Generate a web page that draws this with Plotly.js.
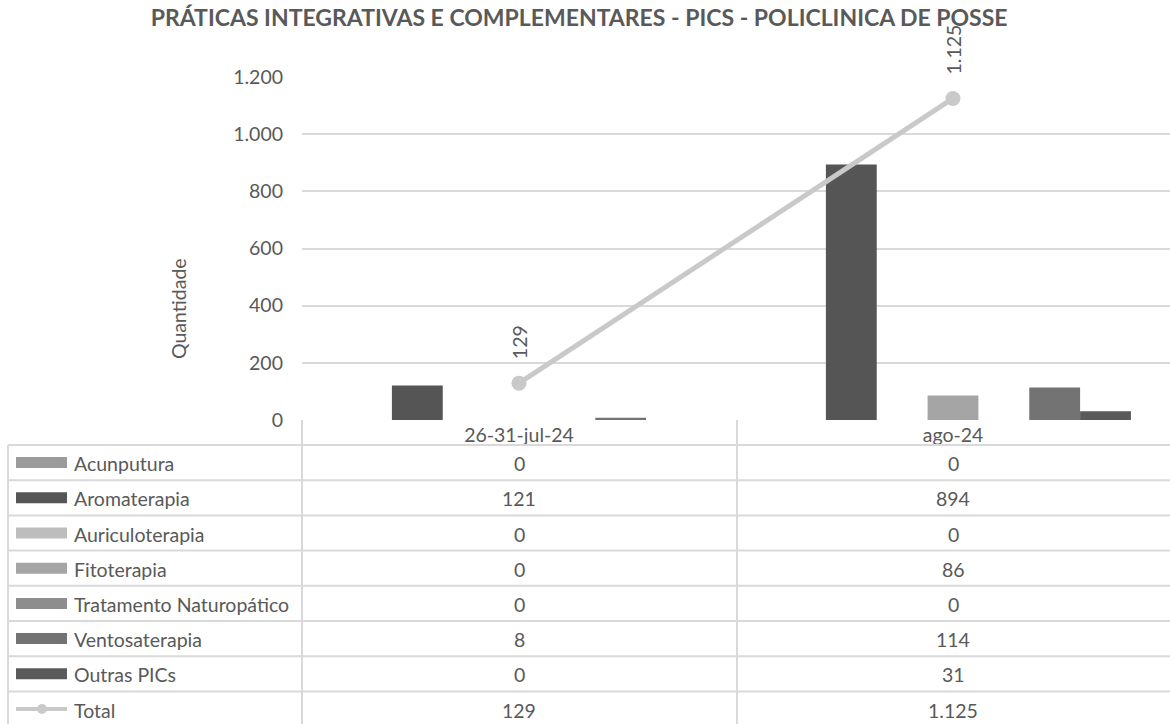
<!DOCTYPE html>
<html>
<head>
<meta charset="utf-8">
<script src="https://cdn.plot.ly/plotly-3.0.1.min.js"></script>
<style>html,body{margin:0;padding:0;background:#fff;}#chart{width:1170px;height:724px;}</style>
</head>
<body>
<div id="chart"></div>
<script>
const categories = ['26-31-jul-24', 'ago-24'];
const seriesNames = ['Acunputura', 'Aromaterapia', 'Auriculoterapia', 'Fitoterapia', 'Tratamento Naturopático', 'Ventosaterapia', 'Outras PICs'];
const acunputura = [0, 0];
const aromaterapia = [121, 894];
const auriculoterapia = [0, 0];
const fitoterapia = [0, 86];
const tratamentoNaturopatico = [0, 0];
const ventosaterapia = [8, 114];
const outrasPICs = [0, 31];
const totalName = 'Total';
const total = [129, 1125];
const yTicks = [0, 200, 400, 600, 800, 1000, 1200];
const chartTitle = 'PRÁTICAS INTEGRATIVAS E COMPLEMENTARES - PICS - POLICLINICA DE POSSE';
const yTitle = 'Quantidade';

const seriesValues = [acunputura, aromaterapia, auriculoterapia, fitoterapia, tratamentoNaturopatico, ventosaterapia, outrasPICs];
const seriesColors = ['#9b9b9b', '#555555', '#bdbdbd', '#a5a5a5', '#8d8d8d', '#737373', '#5a5a5a'];
const totalColor = '#c9c9c9';
const textColor = '#595959';
const gridColor = '#d9d9d9';
const FONT = 'Lato, "Open Sans", sans-serif';
const FS = 19.5;

const W = 1170, H = 724;
const L = 302, R = 0, T = 77, B = 304;
const plotW = W - L - R, plotH = H - T - B;
const px2x = p => (p - L) / plotW;
const py2y = p => (H - B - p) / plotH;
const fmt = v => String(v).replace(/\B(?=(\d{3})+(?!\d))/g, '.');

const traces = [];
seriesNames.forEach((name, i) => {
  traces.push({
    type: 'bar', name: name, x: categories, y: seriesValues[i],
    marker: {color: seriesColors[i], line: {width: 0}},
    showlegend: false, hoverinfo: 'skip'
  });
});
traces.push({
  type: 'scatter', mode: 'lines+markers', name: totalName, x: categories, y: total,
  line: {color: totalColor, width: 5}, marker: {color: totalColor, size: 15},
  cliponaxis: false, showlegend: false, hoverinfo: 'skip'
});

const shapes = [];
const annotations = [];

// Table geometry
const tableLeft = 8, tableRight = W, headerTop = H - B, rowTop = 445, rowH = 35.2;
const colDiv = 737;
const rowLabels = seriesNames.concat([totalName]);
const rowValues = seriesValues.concat([total]);
const nRows = rowLabels.length;
const lineStyle = {color: gridColor, width: 2};

for (let r = 0; r <= nRows; r++) {
  const y = rowTop + r * rowH;
  shapes.push({type: 'line', xref: 'paper', yref: 'paper', x0: px2x(tableLeft), x1: px2x(tableRight), y0: py2y(y), y1: py2y(y), line: lineStyle, layer: 'above'});
}
const tableBottom = rowTop + nRows * rowH;
shapes.push({type: 'line', xref: 'paper', yref: 'paper', x0: px2x(tableLeft), x1: px2x(tableLeft), y0: py2y(rowTop), y1: py2y(tableBottom), line: lineStyle});
shapes.push({type: 'line', xref: 'paper', yref: 'paper', x0: 0, x1: 0, y0: py2y(headerTop), y1: py2y(tableBottom), line: lineStyle});
shapes.push({type: 'line', xref: 'paper', yref: 'paper', x0: px2x(colDiv), x1: px2x(colDiv), y0: py2y(headerTop), y1: py2y(tableBottom), line: lineStyle});

for (let r = 0; r < nRows; r++) {
  const cy = rowTop + r * rowH + rowH / 2;
  annotations.push({xref: 'paper', yref: 'paper', x: px2x(72), y: py2y(cy + 1), xanchor: 'left', yanchor: 'middle', text: rowLabels[r], showarrow: false, font: {family: FONT, size: FS, color: textColor}});
  if (r < seriesNames.length) {
    shapes.push({type: 'rect', xref: 'paper', yref: 'paper', x0: px2x(16), x1: px2x(67), y0: py2y(cy - 5.5), y1: py2y(cy + 5.5), fillcolor: seriesColors[r], line: {width: 0}});
  } else {
    shapes.push({type: 'line', xref: 'paper', yref: 'paper', x0: px2x(16), x1: px2x(67), y0: py2y(cy), y1: py2y(cy), line: {color: totalColor, width: 4}});
    shapes.push({type: 'circle', xref: 'paper', yref: 'paper', x0: px2x(37), x1: px2x(47), y0: py2y(cy - 5), y1: py2y(cy + 5), fillcolor: totalColor, line: {width: 0}});
  }
  categories.forEach((c, k) => {
    annotations.push({xref: 'x', yref: 'paper', x: c, y: py2y(cy + 1), xanchor: 'center', yanchor: 'middle', text: fmt(rowValues[r][k]), showarrow: false, font: {family: FONT, size: FS, color: textColor}});
  });
}

categories.forEach((c, k) => {
  annotations.push({xref: 'x', yref: 'y', x: c, y: total[k], text: fmt(total[k]), textangle: -90, showarrow: false, xanchor: 'center', yanchor: 'bottom', yshift: 22, font: {family: FONT, size: FS, color: textColor}});
});

// y-axis title (placed like the original, below the plot centre)
annotations.push({xref: 'paper', yref: 'paper', x: px2x(178), y: py2y(309), xanchor: 'center', yanchor: 'middle', text: yTitle, textangle: -90, showarrow: false, font: {family: FONT, size: FS, color: textColor}});

const layout = {
  width: W, height: H,
  margin: {l: L, r: R, t: T, b: B, pad: 0},
  paper_bgcolor: '#ffffff', plot_bgcolor: '#ffffff',
  separators: ',.',
  font: {family: FONT, size: FS, color: textColor},
  title: {text: '<b>' + chartTitle + '</b>', x: 0.495, xanchor: 'center', y: 0.975, yanchor: 'middle', font: {family: FONT, size: 23, color: textColor}},
  barmode: 'group', bargap: 0.18, bargroupgap: 0,
  showlegend: false,
  hovermode: false,
  xaxis: {type: 'category', categoryorder: 'array', categoryarray: categories, showgrid: false, showline: false, zeroline: false, ticks: '', ticklabelstandoff: 1, tickfont: {family: FONT, size: FS, color: textColor}, fixedrange: true},
  yaxis: {range: [0, 1200], tickvals: yTicks, tickformat: ',d', separatethousands: true, showgrid: true, gridcolor: gridColor, gridwidth: 2, zeroline: false, showline: false, ticks: '', ticklabelstandoff: 18, tickfont: {family: FONT, size: FS, color: textColor}, automargin: false, fixedrange: true},
  shapes: shapes,
  annotations: annotations
};

Plotly.newPlot('chart', traces, layout, {staticPlot: true, displayModeBar: false});
</script>
</body>
</html>
